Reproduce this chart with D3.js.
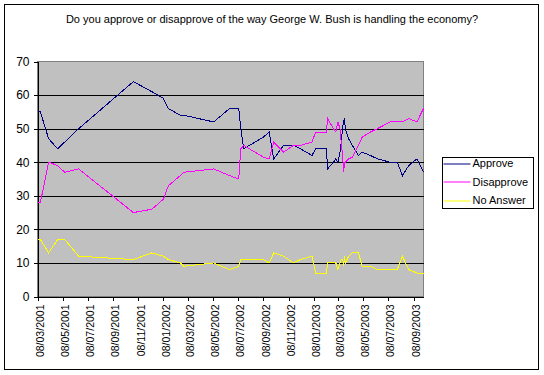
<!DOCTYPE html>
<html>
<head>
<meta charset="utf-8">
<script src="https://d3js.org/d3.v7.min.js"></script>
<style>
  body { margin: 0; background: #fff; }
  svg { display: block; font-family: Arial, "Liberation Sans", sans-serif; }
  .grid line { stroke: #000; shape-rendering: crispEdges; }
  .series { fill: none; stroke-width: 1; shape-rendering: crispEdges; }
</style>
</head>
<body>
<svg width="544" height="375"></svg>
<script>
// poll dates and percentages
var pollDates = ["2001-03-08","2001-03-15","2001-04-04","2001-04-26","2001-05-13","2001-06-16",
  "2001-10-27","2001-12-11","2002-01-08","2002-01-20","2002-02-18","2002-02-26","2002-05-10",
  "2002-06-18","2002-07-10","2002-07-15","2002-07-22","2002-09-08","2002-09-22","2002-10-03",
  "2002-10-27","2002-11-20","2002-12-07","2003-01-04","2003-01-13","2003-02-08","2003-02-11",
  "2003-02-25","2003-03-03","2003-03-08","2003-03-13","2003-03-16","2003-03-20","2003-03-22",
  "2003-03-24","2003-03-26","2003-04-03","2003-04-12","2003-04-27","2003-05-06","2003-05-26",
  "2003-06-12","2003-07-13","2003-07-30","2003-08-12","2003-08-27","2003-09-16","2003-10-02"];
var approve = [55,55,47,44,46,50, 64,61,59,56,54,54,52, 56,56,50,44,47.5,49,41,
  45,45,44,42,44,44,38, 40,41,40,43,46,51,52, 53,50,47,45,42,43,42, 41,40,40,36,39,41,37];
var disapprove = [28,28,40,39,37,38, 25,26,29,33,36,37,38, 36,35,44,45,41.5,41,46,
  43,45,45,46,49,49,53, 50,49,52,50,46,41,37, 40,40,41,41.5,45,47.5,49, 50,52,52,52,53,52,56];
var noAnswer = [17,17,13,17,17,12, 11,13,12,11,10,9,10, 8,9,11,11,11,10,13,
  12,10,11,12,7,7,10, 10,10,8,10,11,11,9, 12,10,12,13,13,9,9, 8,8,8,12,8,7,7];
var tickLabels = ["08/03/2001","08/05/2001","08/07/2001","08/09/2001","08/11/2001","08/01/2002",
  "08/03/2002","08/05/2002","08/07/2002","08/09/2002","08/11/2002","08/01/2003","08/03/2003",
  "08/05/2003","08/07/2003","08/09/2003"];
var seriesNames = ["Approve", "Disapprove", "No Answer"];
var seriesColors = ["#000080", "#FF00FF", "#FFFF00"];

var svg = d3.select("svg");
var parseIso = d3.timeParse("%Y-%m-%d"),
    parseTick = d3.timeParse("%d/%m/%Y");

var plot = {left: 37.5, top: 61.5, right: 423.5, bottom: 296.5};

var x = d3.scaleTime()
  .domain([parseIso("2001-03-08"), parseIso("2003-10-02")])
  .range([plot.left, plot.right]);
var y = d3.scaleLinear().domain([0, 70]).range([plot.bottom, plot.top]);

// outer frame
svg.append("rect")
  .attr("x", 4.5).attr("y", 4.5).attr("width", 534).attr("height", 365)
  .attr("fill", "#fff").attr("stroke", "#000");

svg.append("text")
  .attr("x", 272).attr("y", 23)
  .attr("text-anchor", "middle")
  .style("font-size", "11px")
  .text("Do you approve or disapprove of the way George W. Bush is handling the economy?");

// plot area
svg.append("rect")
  .attr("x", plot.left).attr("y", plot.top)
  .attr("width", plot.right - plot.left).attr("height", plot.bottom - plot.top)
  .attr("fill", "#C0C0C0").attr("stroke", "#808080")
  .style("shape-rendering", "crispEdges");

svg.append("g").attr("class", "grid")
  .selectAll("line")
  .data(d3.range(10, 70, 10))
  .join("line")
  .attr("x1", plot.left).attr("x2", plot.right)
  .attr("y1", function (d) { return Math.round(y(d)) + 0.5; })
  .attr("y2", function (d) { return Math.round(y(d)) + 0.5; });

// y axis
var yAxis = svg.append("g")
  .attr("transform", "translate(" + plot.left + ",0)")
  .call(d3.axisLeft(y).tickValues(d3.range(0, 80, 10)).tickSize(4).tickPadding(4));
yAxis.select(".domain").attr("stroke", "#000");
yAxis.selectAll("text").style("font-size", "12px").attr("fill", "#000");
yAxis.style("shape-rendering", "crispEdges");

// x axis
var xAxis = svg.append("g")
  .attr("transform", "translate(0," + plot.bottom + ")")
  .call(d3.axisBottom(x)
    .tickValues(tickLabels.map(parseTick))
    .tickFormat(function (d, i) { return tickLabels[i]; })
    .tickSize(4).tickSizeOuter(0));
xAxis.style("shape-rendering", "crispEdges");
xAxis.selectAll("text")
  .style("font-size", "10.5px")
  .attr("fill", "#000")
  .attr("text-anchor", "end")
  .attr("transform", "rotate(-90)")
  .attr("x", -8).attr("y", 2).attr("dy", "0.35em");

var dates = pollDates.map(parseIso);
var line = d3.line()
  .x(function (d, i) { return x(dates[i]); })
  .y(function (d) { return y(d); });

[approve, disapprove, noAnswer].forEach(function (vals, k) {
  svg.append("path")
    .attr("class", "series")
    .attr("stroke", seriesColors[k])
    .attr("d", line(vals));
});

// legend
var legend = svg.append("g").attr("transform", "translate(442.5,157.5)");
legend.append("rect")
  .attr("width", 91).attr("height", 51)
  .attr("fill", "#fff").attr("stroke", "#000")
  .style("shape-rendering", "crispEdges");
seriesNames.forEach(function (name, k) {
  var ly = 6 + k * 18.3;
  legend.append("rect")
    .attr("x", 1).attr("width", 27)
    .attr("y", Math.round(ly)).attr("height", 1)
    .attr("fill", seriesColors[k]);
  legend.append("text")
    .attr("x", 30).attr("y", ly).attr("dy", "0.35em")
    .style("font-size", "11px")
    .text(name);
});
</script>
</body>
</html>
